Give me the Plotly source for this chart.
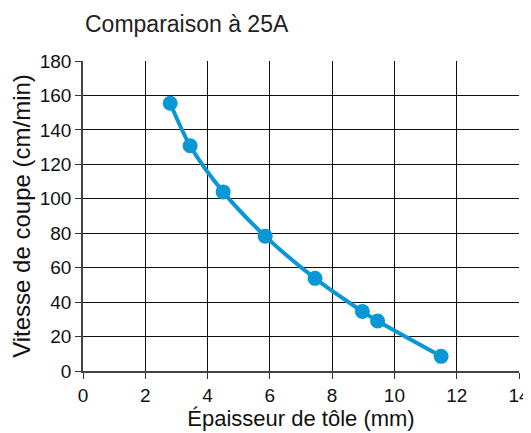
import plotly.graph_objects as go

thickness_mm = [2.8, 3.44, 4.5, 5.85, 7.45, 8.97, 9.46, 11.5]
speed_cm_min = [155.5, 130.8, 104, 78.3, 53.8, 34.6, 29, 8.5]

x_ticks = [0, 2, 4, 6, 8, 10, 12, 14]
y_ticks = [0, 20, 40, 60, 80, 100, 120, 140, 160, 180]

blue = "#0A97D5"
font = "Liberation Sans, Arial, sans-serif"

# page body has an 8px default margin, so the figure is sized to fit the window
W, H = 523, 425

fig = go.Figure(go.Scatter(
    x=thickness_mm, y=speed_cm_min, mode="lines+markers",
    line=dict(color=blue, width=4, shape="spline", smoothing=0.8),
    marker=dict(color=blue, size=15),
    showlegend=False, cliponaxis=False,
))

fig.update_layout(
    width=W, height=H,
    margin=dict(l=75, r=12, t=53, b=62),
    paper_bgcolor="white", plot_bgcolor="white",
    font=dict(family=font, color="#111111"),
    title=dict(text="Comparaison à 25A", x=77 / W, xref="container", xanchor="left",
               y=1 - 16 / H, yref="container", yanchor="middle",
               font=dict(size=23, family=font, color="#222222")),
)
fig.update_xaxes(
    range=[0, 14], tickvals=x_ticks, ticks="outside", ticklen=6, tickcolor="#333333",
    showgrid=True, gridcolor="#111111", gridwidth=1, zeroline=False,
    showline=True, linecolor="#444444", linewidth=1.5, automargin=False,
    tickfont=dict(size=19, family=font),
    title=dict(text="Épaisseur de tôle (mm)", font=dict(size=22, family=font), standoff=6),
)
fig.update_yaxes(
    range=[0, 180], tickvals=y_ticks, ticks="outside", ticklen=6, tickcolor="#333333",
    showgrid=True, gridcolor="#111111", gridwidth=1, zeroline=False,
    showline=True, linecolor="#444444", linewidth=1.5, automargin=False,
    tickfont=dict(size=19, family=font),
    title=dict(text="Vitesse de coupe (cm/min)", font=dict(size=24, family=font), standoff=10),
)

fig.write_html("out.html")
